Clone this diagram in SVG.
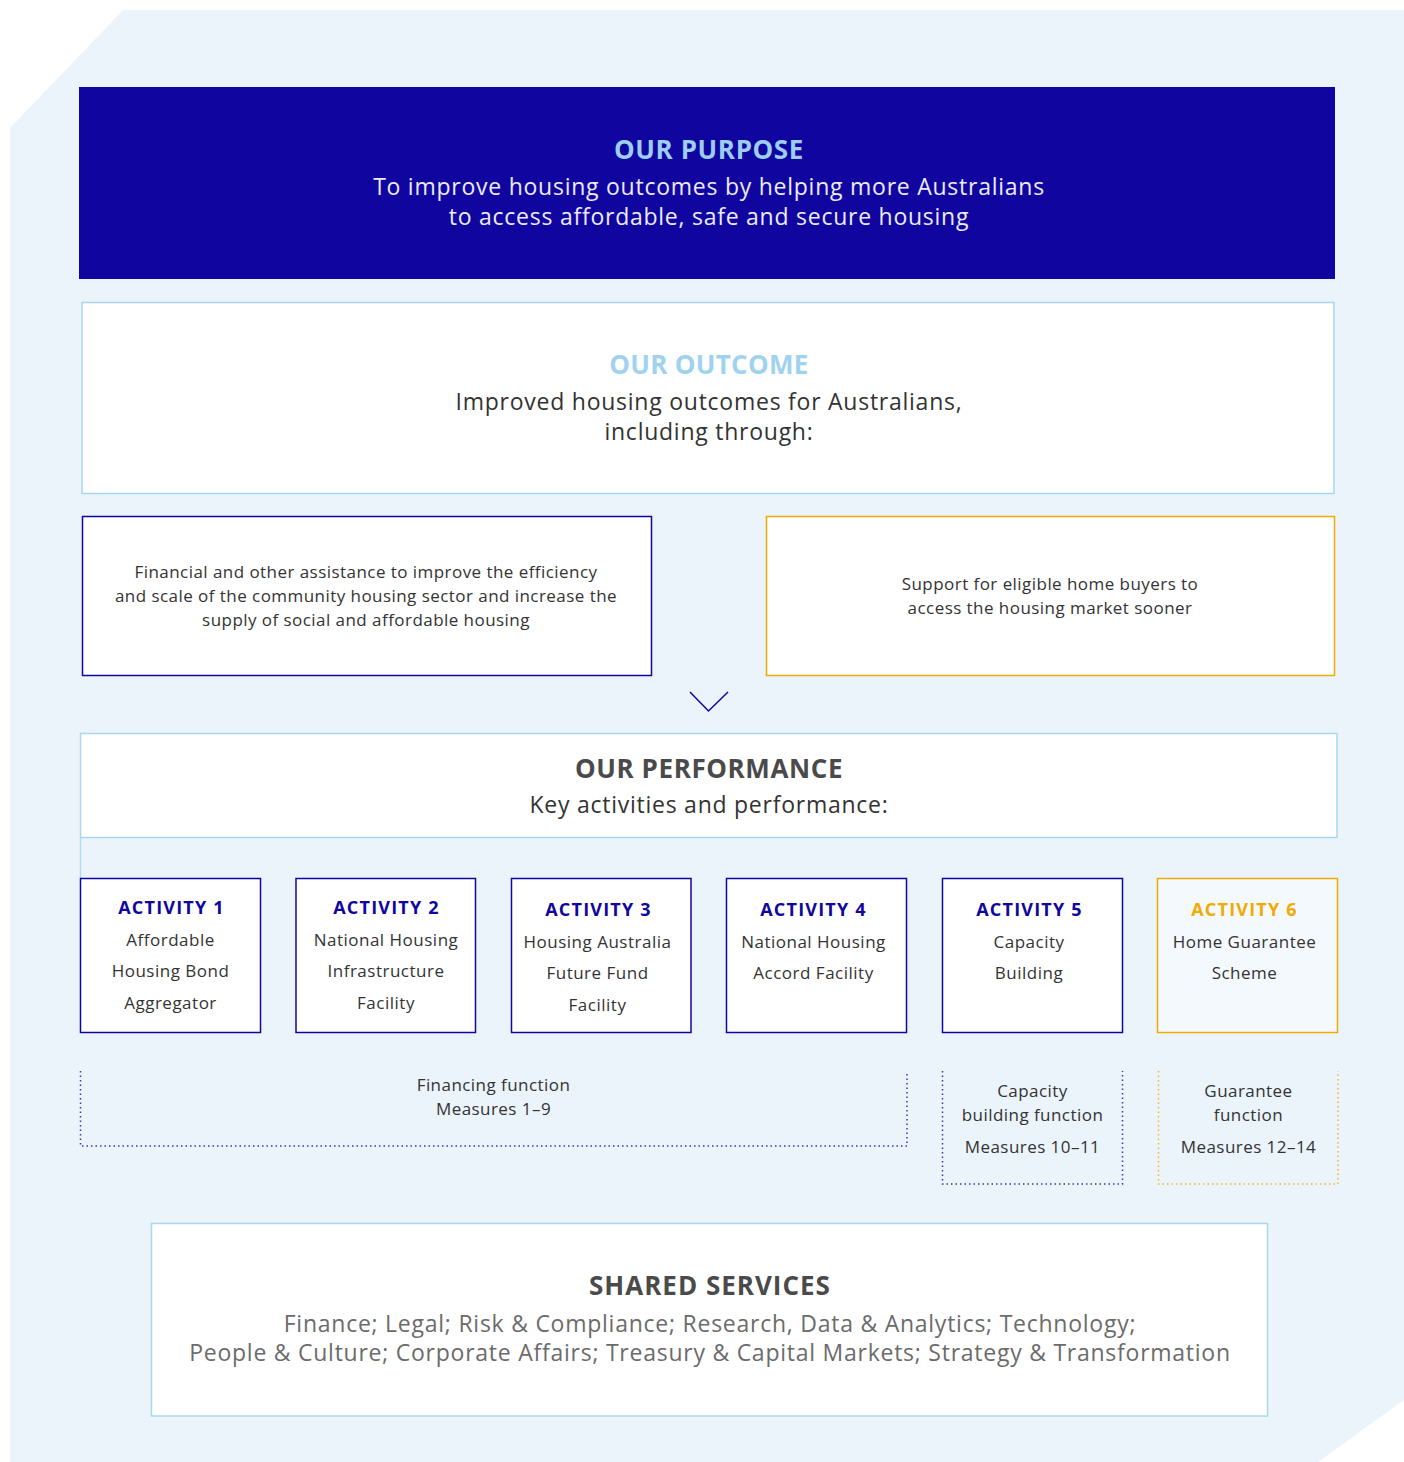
<svg xmlns="http://www.w3.org/2000/svg" width="1404" height="1462" viewBox="0 0 1404 1462">
  <style>
    text { font-family: "Open Sans", "Noto Sans", "Liberation Sans", sans-serif; text-anchor: middle; }
    .head { font-weight: 700; font-size: 26px; letter-spacing: 0.6px; }
    .lead { font-size: 23px; letter-spacing: 0.75px; }
    .big { font-size: 23px; letter-spacing: 0.75px; fill: #333333; }
    .mid { font-size: 17px; letter-spacing: 0.45px; fill: #333333; }
    .act { font-weight: 700; font-size: 18px; letter-spacing: 1.2px; fill: #10069f; }
    .actTxt { font-size: 17px; letter-spacing: 0.5px; fill: #333333; }
    .box { fill: #ffffff; }
    .lb { stroke: #a9d7f0; stroke-width: 1.5; }
    .navy { stroke: #10069f; stroke-width: 1.5; }
    .gold { stroke: #f2a900; stroke-width: 1.5; }
    .dotNavy { fill: none; stroke: #3b31c2; stroke-width: 1.5; stroke-dasharray: 1.5 3; }
    .dotGold { fill: none; stroke: #f2b52a; stroke-width: 1.5; stroke-dasharray: 1.5 3; }
  </style>

  <!-- backdrop panel with clipped corners -->
  <polygon points="123,10 1404,10 1404,1400 1318,1462 10,1462 10,128" fill="#ebf4fb"/>

  <g id="purpose">
    <rect x="79" y="87" width="1256" height="192" fill="#10069f"/>
    <text class="head" x="709" y="159" fill="#9dcdf0">OUR PURPOSE</text>
    <text class="lead" x="709" y="195" fill="#ecebff">To improve housing outcomes by helping more Australians</text>
    <text class="lead" x="709" y="225" fill="#ecebff">to access affordable, safe and secure housing</text>
  </g>

  <g id="outcome">
    <rect class="box lb" x="82" y="302.5" width="1252" height="191"/>
    <text class="head" x="709" y="374" fill="#9fd2ef" style="letter-spacing:0.3px">OUR OUTCOME</text>
    <text class="big" x="709" y="410">Improved housing outcomes for Australians,</text>
    <text class="big" x="709" y="440">including through:</text>
  </g>

  <g id="outcome-community">
    <rect class="box navy" x="82.5" y="516.5" width="569" height="159"/>
    <text class="mid" x="366" y="578">Financial and other assistance to improve the efficiency</text>
    <text class="mid" x="366" y="602">and scale of the community housing sector and increase the</text>
    <text class="mid" x="366" y="626">supply of social and affordable housing</text>
  </g>

  <g id="outcome-homebuyers">
    <rect class="box gold" x="766.5" y="516.5" width="568" height="159"/>
    <text class="mid" x="1050" y="590">Support for eligible home buyers to</text>
    <text class="mid" x="1050" y="614">access the housing market sooner</text>
  </g>

  <g id="connectors">
    <polyline points="690,692 708.5,711 728,692" fill="none" stroke="#10069f" stroke-width="1.5"/>
    <line x1="80.5" y1="838" x2="80.5" y2="878" stroke="#b5dcf2" stroke-width="1.5"/>
  </g>

  <g id="performance">
    <rect class="box lb" x="80.5" y="733.5" width="1256.5" height="104"/>
    <text class="head" x="709" y="778" fill="#4a4a4a">OUR PERFORMANCE</text>
    <text class="big" x="709" y="813">Key activities and performance:</text>
  </g>

  <g id="activity-1">
    <rect class="box navy" x="80.5" y="878.5" width="180" height="154"/>
    <text class="act" x="171.5" y="914">ACTIVITY 1</text>
    <text class="actTxt" x="170.5" y="946">Affordable</text>
    <text class="actTxt" x="170.5" y="977">Housing Bond</text>
    <text class="actTxt" x="170.5" y="1009">Aggregator</text>
  </g>

  <g id="activity-2">
    <rect class="box navy" x="296" y="878.5" width="179.5" height="154"/>
    <text class="act" x="386.5" y="914">ACTIVITY 2</text>
    <text class="actTxt" x="386" y="946">National Housing</text>
    <text class="actTxt" x="386" y="977">Infrastructure</text>
    <text class="actTxt" x="386" y="1009">Facility</text>
  </g>

  <g id="activity-3">
    <rect class="box navy" x="511.5" y="878.5" width="179.5" height="154"/>
    <text class="act" x="598.5" y="916">ACTIVITY 3</text>
    <text class="actTxt" x="597.5" y="948">Housing Australia</text>
    <text class="actTxt" x="597.5" y="979">Future Fund</text>
    <text class="actTxt" x="597.5" y="1011">Facility</text>
  </g>

  <g id="activity-4">
    <rect class="box navy" x="726.5" y="878.5" width="180" height="154"/>
    <text class="act" x="813.5" y="916">ACTIVITY 4</text>
    <text class="actTxt" x="813.5" y="948">National Housing</text>
    <text class="actTxt" x="813.5" y="979">Accord Facility</text>
  </g>

  <g id="activity-5">
    <rect class="box navy" x="942.5" y="878.5" width="180" height="154"/>
    <text class="act" x="1029.5" y="916">ACTIVITY 5</text>
    <text class="actTxt" x="1029" y="948">Capacity</text>
    <text class="actTxt" x="1029" y="979">Building</text>
  </g>

  <g id="activity-6">
    <rect x="1157.5" y="878.5" width="180" height="154" fill="#f4f9fd" class="gold"/>
    <text class="act" x="1244.5" y="916" style="fill:#f2a900">ACTIVITY 6</text>
    <text class="actTxt" x="1244.5" y="948">Home Guarantee</text>
    <text class="actTxt" x="1244.5" y="979">Scheme</text>
  </g>

  <g id="financing-function">
    <polyline class="dotNavy" points="80.5,1071 80.5,1146 907,1146 907,1071"/>
    <text class="mid" x="493.5" y="1091">Financing function</text>
    <text class="mid" x="493.5" y="1115">Measures 1–9</text>
  </g>

  <g id="capacity-function">
    <polyline class="dotNavy" points="942.5,1071 942.5,1184 1122.5,1184 1122.5,1071"/>
    <text class="mid" x="1032.5" y="1097">Capacity</text>
    <text class="mid" x="1032.5" y="1121">building function</text>
    <text class="mid" x="1032.5" y="1153">Measures 10–11</text>
  </g>

  <g id="guarantee-function">
    <polyline class="dotGold" points="1158.5,1071 1158.5,1184 1338,1184 1338,1071"/>
    <text class="mid" x="1248.5" y="1097">Guarantee</text>
    <text class="mid" x="1248.5" y="1121">function</text>
    <text class="mid" x="1248.5" y="1153">Measures 12–14</text>
  </g>

  <g id="shared-services">
    <rect class="box lb" x="151.5" y="1223.5" width="1116" height="192.5"/>
    <text class="head" x="710" y="1295" fill="#4a4a4a" style="letter-spacing:1px">SHARED SERVICES</text>
    <text class="lead" x="710" y="1332" fill="#6b6b6b">Finance; Legal; Risk &amp; Compliance; Research, Data &amp; Analytics; Technology;</text>
    <text class="lead" x="710" y="1361" fill="#6b6b6b">People &amp; Culture; Corporate Affairs; Treasury &amp; Capital Markets; Strategy &amp; Transformation</text>
  </g>
</svg>
